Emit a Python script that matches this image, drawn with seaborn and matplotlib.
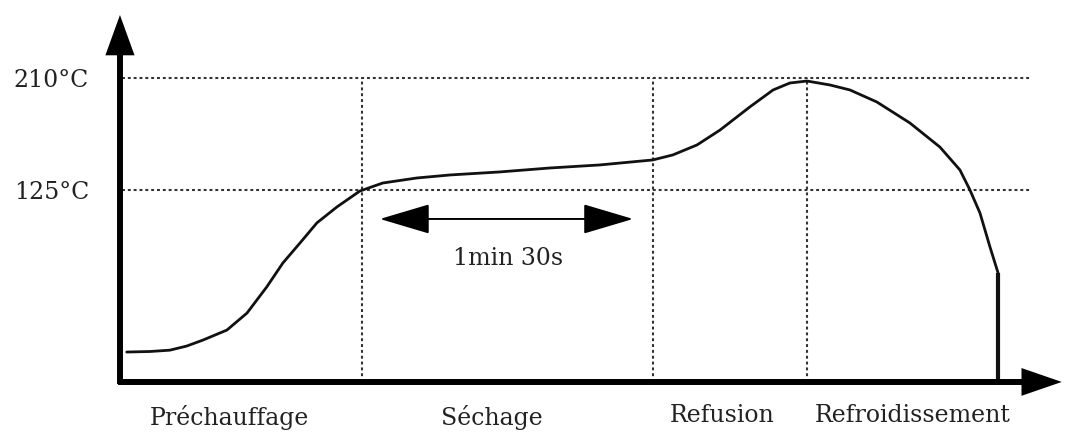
import matplotlib
matplotlib.use("Agg")
import matplotlib.pyplot as plt
import pandas as pd
import seaborn as sns

time_s = [1.5, 8.7, 14.8, 20.0, 25.1, 32.5, 38.7, 44.8, 49.8, 55.1, 60.3, 66.5,
          73.6, 80.7, 91.2, 101.5, 116.9, 132.4, 147.8, 164.2, 170.4, 177.9,
          185.0, 194.2, 201.4, 206.6, 211.9, 219.0, 225.2, 233.5, 243.7, 253.0,
          259.2, 262.3, 265.4, 268.5, 271.0]
temp_c = [2.0, 2.4, 3.4, 6.5, 11.1, 18.7, 31.6, 51.4, 69.6, 84.8, 100.0, 112.1,
          124.2, 130.3, 134.1, 136.4, 138.7, 141.7, 144.0, 147.8, 151.6, 159.2,
          170.5, 188.0, 200.9, 206.2, 207.7, 204.7, 200.9, 191.8, 175.9, 157.6,
          140.2, 125.0, 107.5, 81.7, 62.0]

levels = [210, 125]
level_labels = ["210°C", "125°C"]
phase_bounds = [74.3, 164.2, 211.9]
phases = ["Préchauffage", "Séchage", "Refusion", "Refroidissement"]
phase_x = [33.2, 114.4, 185.6, 244.7]
phase_y = [-48, -48, -46, -46]
span_start, span_end = 79.8, 158.1
span_label = "1min 30s"

df = pd.DataFrame({"t": time_s, "T": temp_c})

sns.set_style("white")
plt.rcParams["font.family"] = ["DejaVu Serif", "DejaVu Sans"]

fig = plt.figure(figsize=(10.76, 4.32), dpi=100)
ax = fig.add_axes([0, 0, 1, 1])
ax.set_xlim(-37.7, 295.1)
ax.set_ylim(-58.7, 269.2)
ax.axis("off")

base_t, base_T = -0.6, -20.7
dot = dict(color="#333333", lw=1.5, linestyle=(0, (1.4, 1.4)))

# lignes pointillées
for lv in levels:
    ax.plot([0, 281.5], [lv, lv], **dot)
for b in phase_bounds:
    ax.plot([b, b], [base_T, 210], **dot)

# courbe
sns.lineplot(data=df, x="t", y="T", ax=ax, color="#111111", lw=2.0, sort=False)
ax.plot([time_s[-1], time_s[-1]], [temp_c[-1], base_T], color="#111111", lw=3,
        solid_capstyle="butt")

# axes avec flèches
ax.plot([base_t, base_t], [base_T - 1.5, 240], color="black", lw=4.3,
        solid_capstyle="butt")
ax.plot([base_t - 0.6, 280], [base_T, base_T], color="black", lw=4.3,
        solid_capstyle="butt")
ax.annotate("", xy=(base_t, 257.8), xytext=(base_t, 220),
            arrowprops=dict(arrowstyle="-|>,head_length=2.9,head_width=1.05",
                            mutation_scale=10, lw=0, fc="black", ec="black",
                            shrinkA=0, shrinkB=0))
ax.annotate("", xy=(290.7, base_T), xytext=(270, base_T),
            arrowprops=dict(arrowstyle="-|>,head_length=2.9,head_width=1.0",
                            mutation_scale=10, lw=0, fc="black", ec="black",
                            shrinkA=0, shrinkB=0))

# double flèche de durée
ax.annotate("", xy=(span_end, 103), xytext=(span_start, 103),
            arrowprops=dict(arrowstyle="<|-|>,head_length=3.2,head_width=0.95",
                            mutation_scale=10, lw=1.4, fc="black", ec="black",
                            shrinkA=0, shrinkB=0))
ax.text((span_start + span_end) / 2 + 0.5, 73, span_label, ha="center",
        va="center", fontsize=17, color="#222222")

# étiquettes
for lv, lab in zip(levels, level_labels):
    ax.text(-10.2, lv - 2, lab, ha="right", va="center", fontsize=17,
            color="#222222")
for x, y, lab in zip(phase_x, phase_y, phases):
    ax.text(x, y, lab, ha="center", va="center", fontsize=17, color="#222222")

plt.savefig("out.png", dpi=100)
